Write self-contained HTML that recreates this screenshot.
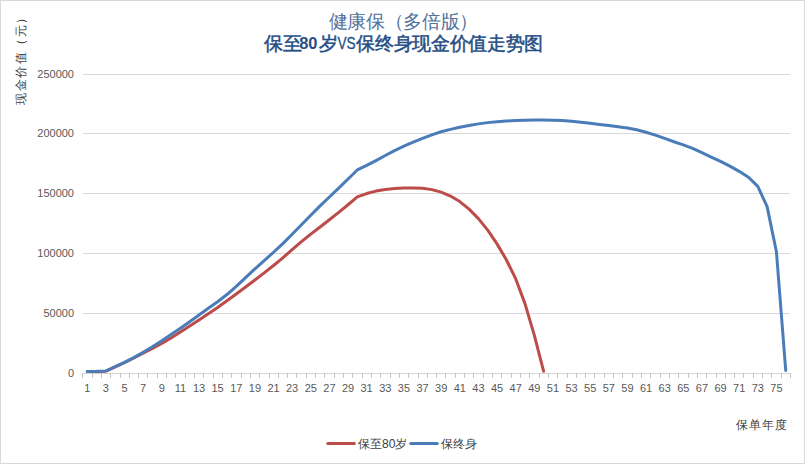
<!DOCTYPE html>
<html><head><meta charset="utf-8"><style>
html,body{margin:0;padding:0;background:#fff;}
svg{display:block;font-family:"Liberation Sans",sans-serif;}
</style></head><body>
<svg width="805" height="464" viewBox="0 0 805 464">
<rect x="0" y="0" width="805" height="464" fill="#fff"/>
<rect x="0.5" y="0.5" width="804" height="463" fill="none" stroke="#d9d9d9" stroke-width="1"/>
<rect x="83" y="74" width="707" height="1" fill="#d9d9d9"/><rect x="83" y="133" width="707" height="1" fill="#d9d9d9"/><rect x="83" y="193" width="707" height="1" fill="#d9d9d9"/><rect x="83" y="253" width="707" height="1" fill="#d9d9d9"/><rect x="83" y="313" width="707" height="1" fill="#d9d9d9"/>
<rect x="82" y="373" width="709" height="1" fill="#d4d4d4"/>
<rect x="82" y="373" width="1" height="5" fill="#c4c4c4"/><rect x="92" y="373" width="1" height="5" fill="#c4c4c4"/><rect x="101" y="373" width="1" height="5" fill="#c4c4c4"/><rect x="110" y="373" width="1" height="5" fill="#c4c4c4"/><rect x="120" y="373" width="1" height="5" fill="#c4c4c4"/><rect x="129" y="373" width="1" height="5" fill="#c4c4c4"/><rect x="138" y="373" width="1" height="5" fill="#c4c4c4"/><rect x="147" y="373" width="1" height="5" fill="#c4c4c4"/><rect x="157" y="373" width="1" height="5" fill="#c4c4c4"/><rect x="166" y="373" width="1" height="5" fill="#c4c4c4"/><rect x="175" y="373" width="1" height="5" fill="#c4c4c4"/><rect x="185" y="373" width="1" height="5" fill="#c4c4c4"/><rect x="194" y="373" width="1" height="5" fill="#c4c4c4"/><rect x="203" y="373" width="1" height="5" fill="#c4c4c4"/><rect x="213" y="373" width="1" height="5" fill="#c4c4c4"/><rect x="222" y="373" width="1" height="5" fill="#c4c4c4"/><rect x="231" y="373" width="1" height="5" fill="#c4c4c4"/><rect x="241" y="373" width="1" height="5" fill="#c4c4c4"/><rect x="250" y="373" width="1" height="5" fill="#c4c4c4"/><rect x="259" y="373" width="1" height="5" fill="#c4c4c4"/><rect x="269" y="373" width="1" height="5" fill="#c4c4c4"/><rect x="278" y="373" width="1" height="5" fill="#c4c4c4"/><rect x="287" y="373" width="1" height="5" fill="#c4c4c4"/><rect x="296" y="373" width="1" height="5" fill="#c4c4c4"/><rect x="306" y="373" width="1" height="5" fill="#c4c4c4"/><rect x="315" y="373" width="1" height="5" fill="#c4c4c4"/><rect x="324" y="373" width="1" height="5" fill="#c4c4c4"/><rect x="334" y="373" width="1" height="5" fill="#c4c4c4"/><rect x="343" y="373" width="1" height="5" fill="#c4c4c4"/><rect x="352" y="373" width="1" height="5" fill="#c4c4c4"/><rect x="362" y="373" width="1" height="5" fill="#c4c4c4"/><rect x="371" y="373" width="1" height="5" fill="#c4c4c4"/><rect x="380" y="373" width="1" height="5" fill="#c4c4c4"/><rect x="390" y="373" width="1" height="5" fill="#c4c4c4"/><rect x="399" y="373" width="1" height="5" fill="#c4c4c4"/><rect x="408" y="373" width="1" height="5" fill="#c4c4c4"/><rect x="418" y="373" width="1" height="5" fill="#c4c4c4"/><rect x="427" y="373" width="1" height="5" fill="#c4c4c4"/><rect x="436" y="373" width="1" height="5" fill="#c4c4c4"/><rect x="445" y="373" width="1" height="5" fill="#c4c4c4"/><rect x="455" y="373" width="1" height="5" fill="#c4c4c4"/><rect x="464" y="373" width="1" height="5" fill="#c4c4c4"/><rect x="473" y="373" width="1" height="5" fill="#c4c4c4"/><rect x="483" y="373" width="1" height="5" fill="#c4c4c4"/><rect x="492" y="373" width="1" height="5" fill="#c4c4c4"/><rect x="501" y="373" width="1" height="5" fill="#c4c4c4"/><rect x="511" y="373" width="1" height="5" fill="#c4c4c4"/><rect x="520" y="373" width="1" height="5" fill="#c4c4c4"/><rect x="529" y="373" width="1" height="5" fill="#c4c4c4"/><rect x="539" y="373" width="1" height="5" fill="#c4c4c4"/><rect x="548" y="373" width="1" height="5" fill="#c4c4c4"/><rect x="557" y="373" width="1" height="5" fill="#c4c4c4"/><rect x="567" y="373" width="1" height="5" fill="#c4c4c4"/><rect x="576" y="373" width="1" height="5" fill="#c4c4c4"/><rect x="585" y="373" width="1" height="5" fill="#c4c4c4"/><rect x="594" y="373" width="1" height="5" fill="#c4c4c4"/><rect x="604" y="373" width="1" height="5" fill="#c4c4c4"/><rect x="613" y="373" width="1" height="5" fill="#c4c4c4"/><rect x="622" y="373" width="1" height="5" fill="#c4c4c4"/><rect x="632" y="373" width="1" height="5" fill="#c4c4c4"/><rect x="641" y="373" width="1" height="5" fill="#c4c4c4"/><rect x="650" y="373" width="1" height="5" fill="#c4c4c4"/><rect x="660" y="373" width="1" height="5" fill="#c4c4c4"/><rect x="669" y="373" width="1" height="5" fill="#c4c4c4"/><rect x="678" y="373" width="1" height="5" fill="#c4c4c4"/><rect x="688" y="373" width="1" height="5" fill="#c4c4c4"/><rect x="697" y="373" width="1" height="5" fill="#c4c4c4"/><rect x="706" y="373" width="1" height="5" fill="#c4c4c4"/><rect x="716" y="373" width="1" height="5" fill="#c4c4c4"/><rect x="725" y="373" width="1" height="5" fill="#c4c4c4"/><rect x="734" y="373" width="1" height="5" fill="#c4c4c4"/><rect x="743" y="373" width="1" height="5" fill="#c4c4c4"/><rect x="753" y="373" width="1" height="5" fill="#c4c4c4"/><rect x="762" y="373" width="1" height="5" fill="#c4c4c4"/><rect x="771" y="373" width="1" height="5" fill="#c4c4c4"/><rect x="781" y="373" width="1" height="5" fill="#c4c4c4"/><rect x="790" y="373" width="1" height="5" fill="#c4c4c4"/>
<g fill="#595959" font-size="11"><text x="74" y="78" text-anchor="end">250000</text><text x="74" y="137" text-anchor="end">200000</text><text x="74" y="197" text-anchor="end">150000</text><text x="74" y="257" text-anchor="end">100000</text><text x="74" y="317" text-anchor="end">50000</text><text x="74" y="377" text-anchor="end">0</text></g>
<g fill="#595959" font-size="11"><text x="87.3" y="392" text-anchor="middle">1</text><text x="105.9" y="392" text-anchor="middle">3</text><text x="124.5" y="392" text-anchor="middle">5</text><text x="143.1" y="392" text-anchor="middle">7</text><text x="161.8" y="392" text-anchor="middle">9</text><text x="180.4" y="392" text-anchor="middle">11</text><text x="199.0" y="392" text-anchor="middle">13</text><text x="217.6" y="392" text-anchor="middle">15</text><text x="236.3" y="392" text-anchor="middle">17</text><text x="254.9" y="392" text-anchor="middle">19</text><text x="273.5" y="392" text-anchor="middle">21</text><text x="292.1" y="392" text-anchor="middle">23</text><text x="310.8" y="392" text-anchor="middle">25</text><text x="329.4" y="392" text-anchor="middle">27</text><text x="348.0" y="392" text-anchor="middle">29</text><text x="366.6" y="392" text-anchor="middle">31</text><text x="385.3" y="392" text-anchor="middle">33</text><text x="403.9" y="392" text-anchor="middle">35</text><text x="422.5" y="392" text-anchor="middle">37</text><text x="441.2" y="392" text-anchor="middle">39</text><text x="459.8" y="392" text-anchor="middle">41</text><text x="478.4" y="392" text-anchor="middle">43</text><text x="497.0" y="392" text-anchor="middle">45</text><text x="515.7" y="392" text-anchor="middle">47</text><text x="534.3" y="392" text-anchor="middle">49</text><text x="552.9" y="392" text-anchor="middle">51</text><text x="571.5" y="392" text-anchor="middle">53</text><text x="590.2" y="392" text-anchor="middle">55</text><text x="608.8" y="392" text-anchor="middle">57</text><text x="627.4" y="392" text-anchor="middle">59</text><text x="646.0" y="392" text-anchor="middle">61</text><text x="664.7" y="392" text-anchor="middle">63</text><text x="683.3" y="392" text-anchor="middle">65</text><text x="701.9" y="392" text-anchor="middle">67</text><text x="720.5" y="392" text-anchor="middle">69</text><text x="739.2" y="392" text-anchor="middle">71</text><text x="757.8" y="392" text-anchor="middle">73</text><text x="776.4" y="392" text-anchor="middle">75</text></g>
<polyline points="87.26,371.60 96.57,371.55 105.88,371.22 115.20,366.94 124.51,362.64 133.82,357.99 143.13,353.08 152.45,348.35 161.76,343.51 171.07,337.98 180.39,332.02 189.70,325.98 199.01,319.92 208.33,313.85 217.64,307.50 226.95,300.78 236.26,293.93 245.58,287.02 254.89,279.99 264.20,272.83 273.52,265.52 282.83,257.81 292.14,249.60 301.46,241.55 310.77,234.11 320.08,226.94 329.39,219.77 338.71,212.42 348.02,204.74 357.33,196.92 366.65,193.56 375.96,191.09 385.27,189.53 394.59,188.59 403.90,188.04 413.21,187.89 422.52,188.33 431.84,189.63 441.15,192.15 450.46,196.02 459.78,201.54 469.09,209.11 478.40,218.63 487.72,230.12 497.03,243.87 506.34,259.82 515.65,278.71 524.97,303.60 534.28,335.19 543.59,371.20" fill="none" stroke="#bc4c49" stroke-width="3" stroke-linejoin="round" stroke-linecap="round"/>
<polyline points="87.26,371.40 96.57,371.35 105.88,371.01 115.20,366.66 124.51,362.31 133.82,357.59 143.13,352.36 152.45,346.69 161.76,340.64 171.07,334.46 180.39,328.19 189.70,321.67 199.01,314.97 208.33,308.33 217.64,301.70 226.95,294.55 236.26,286.45 245.58,277.69 254.89,268.92 264.20,260.53 273.52,252.27 282.83,243.58 292.14,234.31 301.46,224.80 310.77,215.26 320.08,205.92 329.39,196.97 338.71,188.09 348.02,179.03 357.33,169.95 366.65,165.44 375.96,160.60 385.27,155.50 394.59,150.56 403.90,146.13 413.21,142.10 422.52,138.33 431.84,134.81 441.15,131.75 450.46,129.35 459.78,127.34 469.09,125.50 478.40,123.88 487.72,122.62 497.03,121.71 506.34,121.03 515.65,120.56 524.97,120.24 534.28,120.04 543.59,119.99 552.91,120.14 562.22,120.58 571.53,121.32 580.85,122.26 590.16,123.35 599.47,124.52 608.78,125.61 618.10,126.72 627.41,128.05 636.72,129.82 646.04,132.22 655.35,135.17 664.66,138.42 673.98,141.73 683.29,144.91 692.60,148.44 701.91,152.65 711.23,157.03 720.54,161.39 729.85,166.07 739.17,171.35 748.48,177.26 757.79,186.40 767.11,206.62 776.42,251.71 785.73,370.50" fill="none" stroke="#4a7cb9" stroke-width="3" stroke-linejoin="round" stroke-linecap="round"/>
<text x="328.50 347.17 365.84 384.51 403.18 421.85 440.52 459.19" y="28" font-size="18.67" font-weight="300" fill="#52719d">健康保（多倍版）</text>
<g font-weight="normal" fill="#264e85" stroke="#264e85" stroke-width="0.5"><text x="263.8 282.5" y="50" font-size="18.67">保至</text><text x="299.2" y="49" font-size="16.5" font-weight="bold" stroke="none" textLength="18.2" lengthAdjust="spacingAndGlyphs">80</text><text x="319" y="50" font-size="18.67">岁</text><text x="337.4" y="49.1" font-size="16.4" font-weight="normal" stroke-width="0.3" textLength="18.2" lengthAdjust="spacingAndGlyphs">VS</text><text x="356.30 374.97 393.64 412.31 430.98 449.65 468.32 486.99 505.66 524.33" y="50" font-size="18.67">保终身现金价值走势图</text></g>
<text transform="translate(25.4,105) rotate(-90)" x="0.30 13.80 27.30 40.80 54.30 68.30 81.30" y="0" font-size="12" fill="#404040">现金价值（元）</text>
<text x="787.5" y="429.2" text-anchor="end" font-size="12" fill="#404040" letter-spacing="1">保单年度</text>
<line x1="327.8" y1="443.5" x2="354.3" y2="443.5" stroke="#bc4c49" stroke-width="3" stroke-linecap="round"/>
<text x="358" y="448" font-size="12" fill="#404040">保至80岁</text>
<line x1="410.8" y1="443.5" x2="437.3" y2="443.5" stroke="#4a7cb9" stroke-width="3" stroke-linecap="round"/>
<text x="441.3" y="448" font-size="12" fill="#404040">保终身</text>
</svg>
</body></html>
